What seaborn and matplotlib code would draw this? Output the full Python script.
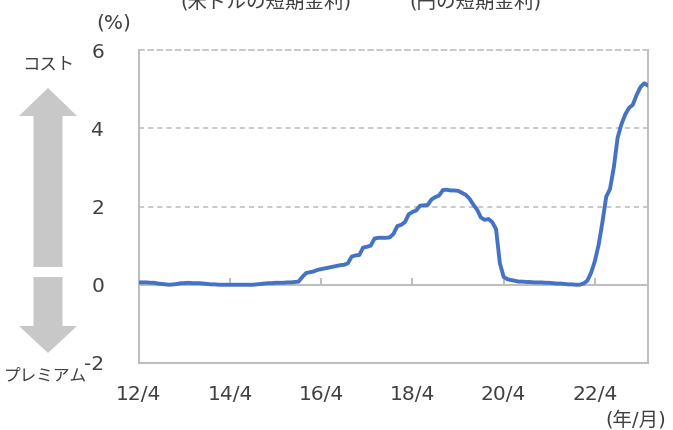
import numpy as np
import pandas as pd
import matplotlib
matplotlib.use("Agg")
import matplotlib.pyplot as plt
import seaborn as sns
from matplotlib.patches import Polygon

# hedge cost: USD short rate minus JPY short rate, monthly from 2012/4 (%)
spread = [0.06, 0.06, 0.06, 0.05, 0.05,
          0.03, 0.02, 0.01, 0.00, 0.01, 0.02,
          0.04, 0.04, 0.05, 0.04, 0.04, 0.04,
          0.03, 0.02, 0.01, 0.01,
          0.00, 0.00, 0.00, 0.00, 0.00, 0.00, 0.00, 0.00, 0.00, 0.00,
          0.01, 0.02, 0.03, 0.04, 0.04, 0.05, 0.05, 0.05, 0.06, 0.06, 0.07,
          0.08, 0.20, 0.30, 0.32, 0.34, 0.38, 0.40, 0.42, 0.44, 0.46, 0.48, 0.50, 0.51, 0.55,
          0.72, 0.75, 0.76, 0.95, 0.97, 1.00, 1.18, 1.20, 1.20, 1.20, 1.21, 1.30, 1.50, 1.53,
          1.60, 1.80, 1.86, 1.90, 2.02, 2.03, 2.04, 2.18, 2.24, 2.28, 2.42, 2.43, 2.41, 2.41,
          2.40, 2.35, 2.30, 2.20, 2.05, 1.92, 1.72, 1.66, 1.68, 1.60, 1.42, 0.55, 0.20, 0.14,
          0.12, 0.10, 0.08,
          0.08, 0.07, 0.07, 0.06, 0.06, 0.06, 0.05, 0.05, 0.04, 0.03, 0.03, 0.02, 0.01, 0.01,
          0.00, 0.00,
          0.03, 0.10, 0.30, 0.60, 1.02, 1.60, 2.25, 2.45, 3.00, 3.76, 4.10, 4.35, 4.52, 4.60,
          4.85, 5.05, 5.15, 5.09]
months = pd.period_range("2012-04", periods=len(spread), freq="M")
tick_labels = ["12/4", "14/4", "16/4", "18/4", "20/4", "22/4"]
y_ticks = [-2, 0, 2, 4, 6]

df = pd.DataFrame({"idx": np.arange(len(spread)), "spread": spread})
tick_pos = [list(months).index(pd.Period("20" + t.split("/")[0] + "-" + t.split("/")[1].zfill(2), freq="M"))
            for t in tick_labels]

sns.set_style("white")
plt.rcParams["font.family"] = ["DejaVu Sans", "Noto Sans CJK JP"]

W, H = 673, 430
def fx(x):
    return x / W
def fy(y):
    return 1 - y / H

fig = plt.figure(figsize=(W / 100, H / 100), dpi=100)
ax = fig.add_axes([fx(139), fy(363), (648 - 139) / W, (363 - 50) / H])

grey = "#BFBFBF"
for v in [2, 4]:
    ax.axhline(v, color=grey, lw=1.2, ls=(0, (3, 2.5)), zorder=0)
ax.axhline(0, color=grey, lw=1.5, zorder=1)
ax.vlines(tick_pos, 0, 0.16, color=grey, lw=1.5, zorder=1)

sns.lineplot(data=df, x="idx", y="spread", color="#4472C4", lw=2.8, ax=ax, zorder=3)

ax.set_xlim(0, len(spread) - 1)
ax.set_ylim(-2, 6)
ax.set_yticks(y_ticks)
ax.set_yticklabels([str(v) for v in y_ticks])
ax.set_xticks(tick_pos)
ax.set_xticklabels(tick_labels)
ax.tick_params(axis="y", length=0, pad=25, labelsize=14.5, colors="#404040")
ax.tick_params(axis="x", length=0, pad=16, labelsize=14.5, colors="#404040")
ax.set_xlabel("")
ax.set_ylabel("")
for s in ax.spines.values():
    s.set_color(grey)
    s.set_linewidth(1.5)
ax.spines["top"].set_linestyle((0, (3, 2.5)))
ax.spines["top"].set_linewidth(1.2)

txt = "#404040"
fig.text(fx(114), fy(23), "(%)", ha="center", va="center", fontsize=14.5, color=txt)
fig.text(fx(636), fy(420), "(年/月)", ha="center", va="center", fontsize=14, color=txt)
fig.text(fx(266), fy(2), "(米ドルの短期金利)", ha="center", va="center", fontsize=14, color=txt)
fig.text(fx(475), fy(2), "(円の短期金利)", ha="center", va="center", fontsize=14, color=txt)
fig.text(fx(48), fy(65), "コスト", ha="center", va="center", fontsize=12.5, color=txt)
fig.text(fx(45), fy(375), "プレミアム", ha="center", va="center", fontsize=12, color=txt)

arrow_col = "#C8C8C8"
up = [(48, 88), (77, 116), (62.5, 116), (62.5, 267), (33.5, 267), (33.5, 116), (19, 116)]
down = [(33.5, 277), (62.5, 277), (62.5, 326), (77, 326), (48, 353), (19, 326), (33.5, 326)]
for pts in [up, down]:
    fig.patches.append(Polygon([(fx(x), fy(y)) for x, y in pts], closed=True,
                               transform=fig.transFigure, facecolor=arrow_col,
                               edgecolor="none"))

plt.savefig("out.png", dpi=100)
